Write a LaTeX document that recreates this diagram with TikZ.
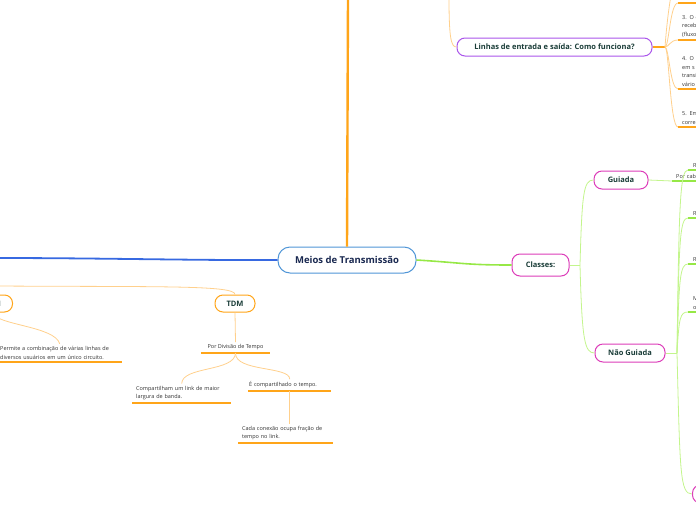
\documentclass[tikz,border=0pt]{standalone}
\usepackage{fontspec}
\setmainfont{Open Sans}
\definecolor{cblue}{RGB}{80,150,215}
\definecolor{lblue}{RGB}{55,105,225}
\definecolor{orng}{RGB}{255,165,25}
\definecolor{lorng}{RGB}{255,208,140}
\definecolor{grn}{RGB}{150,232,70}
\definecolor{lgrn}{RGB}{195,245,140}
\definecolor{mag}{RGB}{220,60,185}
\definecolor{purp}{RGB}{170,85,235}
\definecolor{navy}{RGB}{25,40,80}
\definecolor{dteal}{RGB}{25,60,55}
\definecolor{txt}{RGB}{50,50,50}
\begin{document}
\begin{tikzpicture}[x=1pt,y=-1pt,
  central/.style={draw=cblue, line width=1pt, fill=white, rounded corners=12pt, minimum width=138pt, minimum height=26pt, inner sep=0pt, text=navy, font=\fontsize{9.5}{11}\selectfont\bfseries},
  topic/.style={line width=1pt, fill=white, rounded corners=8pt, minimum height=18pt, inner sep=0pt, text=dteal, font=\fontsize{7.5}{9}\selectfont\bfseries},
  leaf/.style={inner xsep=3pt, inner ysep=2.5pt, align=left, text=txt, font=\fontsize{5.5}{8.5}\selectfont},
  ulo/.style={draw=orng, line width=1.3pt},
  ulg/.style={draw=grn, line width=1.3pt},
  thor/.style={draw=orng, line width=2.4pt},
  medor/.style={draw=orng, line width=1.8pt},
  lor/.style={draw=lorng, line width=0.8pt},
  bl/.style={draw=lblue, line width=1.8pt},
  gr/.style={draw=grn, line width=1.6pt},
  lgr/.style={draw=lgrn, line width=0.8pt}]
\useasboundingbox (0,0) rectangle (696,520);
\clip (0,0) rectangle (696,520);
% main nodes
\node[central] (meios) at (347,260) {Meios de Transmissão};
\node[topic,draw=purp,minimum width=195pt] (linhas) at (554.5,47) {Linhas de entrada e saída: Como funciona?};
\node[topic,draw=mag,minimum width=57pt,minimum height=22pt] (classes) at (540.5,265) {Classes:};
\node[topic,draw=mag,minimum width=54pt] (guiada) at (621,180) {Guiada};
\node[topic,draw=mag,minimum width=70pt] (naog) at (630,353) {Não Guiada};
\node[topic,draw=mag,minimum width=60pt,anchor=west] (ngb) at (692,494) {};
\node[topic,draw=orng,minimum width=40pt,minimum height=17pt] (tdm) at (235,303.5) {TDM};
\node[topic,draw=orng,minimum width=40pt,minimum height=17pt,anchor=east] (fdm) at (13,303.5) {FDM};
% leaves left
\node[leaf,text width=119pt,anchor=south west] (permite) at (-3,362) {Permite a combinação de várias linhas de\\diversos usuários em um único circuito.};
\node[leaf,align=center,minimum width=69pt,anchor=south] (pordiv) at (235.5,353) {Por Divisão de Tempo};
\node[leaf,inner xsep=4pt,text width=91pt,anchor=south west] (compart) at (132,403) {Compartilham um link de maior\\largura de banda.};
\node[leaf,inner xsep=1pt,text width=81pt,anchor=south west] (ecomp) at (248,391) {É compartilhado o tempo.};
\node[leaf,inner xsep=4pt,text width=87pt,anchor=south west] (cada) at (238,443) {Cada conexão ocupa fração de\\tempo no link.};
% leaves right (Linhas)
\node[leaf,inner xsep=4pt,text width=60pt,anchor=south west] (it2) at (678,3) {};
\node[leaf,inner xsep=4pt,text width=60pt,anchor=south west] (it3) at (678,40) {3. O c\\receb\\(fluxo};
\node[leaf,inner xsep=4pt,text width=60pt,anchor=south west] (it4) at (678,89) {4. O D\\em s\\transi\\vário};
\node[leaf,inner xsep=4pt,text width=60pt,anchor=south west] (it5) at (678,127) {5. Em\\corre};
% leaves right (classes)
\node[leaf,inner xsep=4pt,text width=40pt,anchor=south west] (pcab) at (672,181) {Por cabo};
\node[leaf,inner xsep=5pt,text width=40pt,anchor=south west] (ngA) at (688,170) {Rádio};
\node[leaf,inner xsep=5pt,text width=40pt,anchor=south west] (ngB) at (688,218) {Rádio};
\node[leaf,inner xsep=5pt,text width=40pt,anchor=south west] (ngC) at (688,264) {Rádio};
\node[leaf,inner xsep=5pt,text width=40pt,anchor=south west] (ngD) at (688,312) {Micro-\\ondas};
% underlines
\foreach \n in {permite,pordiv,compart,ecomp,cada,it2,it3,it4,it5}
  \draw[ulo] (\n.south west) -- (\n.south east);
\foreach \n in {pcab,ngA,ngB,ngC,ngD}
  \draw[ulg] (\n.south west) -- (\n.south east);
% connectors: top and left
\coordinate (topend) at (348,-3);
\draw[thor] (meios.north) -- (topend);
\coordinate (blueend) at (-3,258);
\draw[bl] (meios.west) .. controls (200,260.5) and (100,258) .. (blueend);
\coordinate (linpar) at (449,-3);
\draw[lor] (linpar) .. controls (449,38) and (451,47) .. (linhas.west);
\coordinate (lbr) at (665,47);
\draw[medor] (linhas.east) -- (lbr);
\coordinate (itup) at (674,-20);
\foreach \n in {it2,it3,it4,it5}
  \draw[lor] (lbr) .. controls +(4,0) and +(-8,0) .. (\n.south west);
\draw[lor] (lbr) .. controls +(3,-40) and +(-2,10) .. (itup);
% TDM / FDM
\coordinate (tdmpar) at (-3,286);
\draw[lor] (tdmpar) .. controls (160,287) and (235,285) .. (tdm.north);
\draw[lor] (fdm.south) .. controls (-5,325) and (55,326) .. (permite.north);
\draw[lor] (tdm.south) -- (pordiv.north);
\draw[lor] (pordiv.south) .. controls (235,372) and (182,366) .. (compart.north);
\draw[lor] (pordiv.south) .. controls (235,372) and (290,366) .. (ecomp.north);
\draw[lor] (ecomp.south) -- (ecomp.south |- cada.north);
% classes
\draw[gr] (meios.east) .. controls (465,263) and (465,265) .. (classes.west);
\coordinate (cbr) at (580,265);
\draw[lgr] (classes.east) -- (cbr);
\draw[lgr] (cbr) .. controls +(2,-72) and +(-10,0) .. (guiada.west);
\draw[lgr] (cbr) .. controls +(2,75) and +(-10,0) .. (naog.west);
\draw[lgr] (guiada.east) -- (pcab.south west);
\coordinate (nbr) at (677,353);
\draw[lgr] (naog.east) -- (nbr);
\draw[lgr] (nbr) .. controls +(2,-150) and +(-8,0) .. (ngA.south west);
\draw[lgr] (nbr) .. controls +(2,-115) and +(-8,0) .. (ngB.south west);
\draw[lgr] (nbr) .. controls +(2,-75) and +(-8,0) .. (ngC.south west);
\draw[lgr] (nbr) .. controls +(2,-35) and +(-8,0) .. (ngD.south west);
\draw[lgr] (nbr) .. controls +(3,120) and +(-12,0) .. (ngb.west);
\end{tikzpicture}
\end{document}
